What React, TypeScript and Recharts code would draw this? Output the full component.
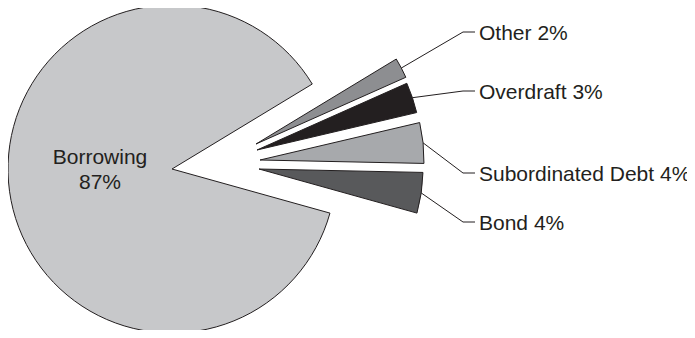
import { PieChart, Pie, Cell, Sector } from 'recharts';

const categories = ['Bond', 'Subordinated Debt', 'Overdraft', 'Other', 'Borrowing'];
const shares = [4, 4, 3, 2, 87];

const fills = ['#58595b', '#a7a9ac', '#231f20', '#8d8e91', '#c7c8ca'];
// how far each slice is pulled away from the pie centre
const explode = [
  { dx: 87, dy: 0 },
  { dx: 88, dy: -9 },
  { dx: 85, dy: -19 },
  { dx: 84, dy: -25 },
  { dx: 0, dy: 0 },
];
// y of each callout text on the right
const calloutY = [222, 173, 91, 32, 0];

const data = categories.map((name, i) => ({ name, value: shares[i] }));

const INK = '#231f20';
const FONT = '"Liberation Sans", Arial, sans-serif';
const FONT_SIZE = 21;
const RAD = Math.PI / 180;

function ExplodedSector(props: any) {
  const off = explode[props.index] ?? { dx: 0, dy: 0 };
  return <Sector {...props} cx={props.cx + off.dx} cy={props.cy + off.dy} />;
}

function renderLabel(props: any) {
  const { cx, cy, midAngle, outerRadius, index } = props;
  const entry = data[index];
  if (entry.name === 'Borrowing') {
    const x = cx - 72;
    return (
      <text x={x} y={cy} textAnchor="middle" fontFamily={FONT} fontSize={FONT_SIZE} fill={INK}>
        <tspan x={x} y={cy - 5}>{entry.name}</tspan>
        <tspan x={x} y={cy + 20}>{entry.value}%</tspan>
      </text>
    );
  }
  const off = explode[index];
  const ox = cx + off.dx + outerRadius * Math.cos(-midAngle * RAD);
  const oy = cy + off.dy + outerRadius * Math.sin(-midAngle * RAD);
  const y = calloutY[index];
  return (
    <g>
      <polyline points={`${ox},${oy} 463,${y} 475,${y}`} fill="none" stroke={INK} strokeWidth={1} />
      <text x={479} y={y} dominantBaseline="central" fontFamily={FONT} fontSize={FONT_SIZE} fill={INK}>
        {entry.name} {entry.value}%
      </text>
    </g>
  );
}

export default function App() {
  return (
    <div style={{ margin: '-8px', width: 695, height: 338, background: '#fff' }}>
      <PieChart width={695} height={338} margin={{ top: 0, right: 0, bottom: 0, left: 0 }}>
        <Pie
          data={data}
          dataKey="value"
          nameKey="name"
          cx={172}
          cy={169}
          outerRadius={164}
          startAngle={-15.6}
          endAngle={344.4}
          stroke={INK}
          strokeWidth={1}
          shape={ExplodedSector}
          label={renderLabel}
          labelLine={false}
          isAnimationActive={false}
        >
          {data.map((d, i) => (
            <Cell key={d.name} fill={fills[i]} />
          ))}
        </Pie>
      </PieChart>
    </div>
  );
}
